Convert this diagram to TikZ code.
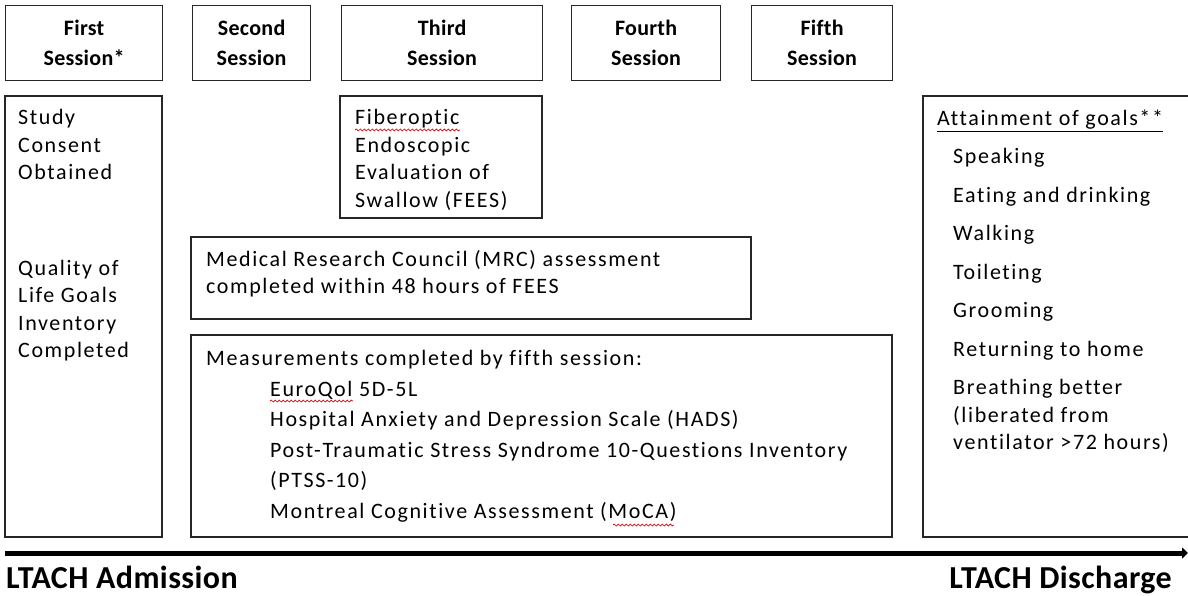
\documentclass[tikz,border=0pt]{standalone}
\usepackage{fontspec}
\setmainfont{Carlito}[Ligatures=NoCommon, LetterSpace=7.3, BoldFeatures={LetterSpace=1.3}]
\usetikzlibrary{arrows.meta,decorations.pathmorphing}
\begin{document}
\begin{tikzpicture}[x=1pt,y=-1pt,
  box/.style={draw=black!85, line width=1.2pt},
  hdr/.style={box, font=\bfseries\fontsize{22}{30}\selectfont, align=center, inner sep=0pt},
  body/.style={anchor=base west, inner sep=0pt, font=\fontsize{22}{27.5}\selectfont},
  meas/.style={anchor=base west, inner sep=0pt, font=\fontsize{22}{30.5}\selectfont},
  endlbl/.style={anchor=base west, inner sep=0pt, font=\bfseries\fontsize{32}{36}\selectfont},
  squig/.style={draw=red!85!black, line width=0.7pt, decorate, decoration={snake, segment length=4pt, amplitude=1pt}},
  timeline/.style={line width=5pt, -{Triangle[length=6pt,width=11pt]}}]
\useasboundingbox (0,0) rectangle (1188,596);

% session headers
\node[hdr, minimum width=157pt, minimum height=75pt, anchor=north west] (s1) at (5,5) {First\\Session*};
\node[hdr, minimum width=118pt, minimum height=75pt, anchor=north west] (s2) at (192,5) {Second\\Session};
\node[hdr, minimum width=201pt, minimum height=75pt, anchor=north west] (s3) at (341,5) {Third\\Session};
\node[hdr, minimum width=149pt, minimum height=75pt, anchor=north west] (s4) at (571,5) {Fourth\\Session};
\node[hdr, minimum width=141pt, minimum height=75pt, anchor=north west] (s5) at (751,5) {Fifth\\Session};

% content boxes
\draw[box] (5,96) rectangle (162,537);
\node[body] (consent) at (18,125) {\begin{tabular}[t]{@{}l@{}}Study\\Consent\\Obtained\end{tabular}};
\node[body] (qol) at (18,275) {\begin{tabular}[t]{@{}l@{}}Quality of\\Life Goals\\Inventory\\Completed\end{tabular}};

\draw[box] (340,96) rectangle (542,218);
\node[body] (fees) at (355,125) {\begin{tabular}[t]{@{}l@{}}Fiberoptic\\Endoscopic\\Evaluation of\\Swallow (FEES)\end{tabular}};

\draw[box] (191,237) rectangle (751,319);
\node[body] (mrc) at (206,266) {\begin{tabular}[t]{@{}l@{}}Medical Research Council (MRC) assessment\\completed within 48 hours of FEES\end{tabular}};

\draw[box] (191,335) rectangle (892,537);
\node[meas] (mhead) at (206,365) {Measurements completed by fifth session:};
\node[meas] (mlist) at (270,396) {\begin{tabular}[t]{@{}l@{}}EuroQol 5D-5L\\Hospital Anxiety and Depression Scale (HADS)\\Post-Traumatic Stress Syndrome 10-Questions Inventory\\(PTSS-10)\\Montreal Cognitive Assessment (MoCA)\end{tabular}};

\draw[box] (1188,96) -- (923,96) -- (923,537) -- (1188,537);
\node[body] (goals) at (937,126) {\underline{Attainment of goals**}};
\node[body] (glist) at (953,164) {\begin{tabular}[t]{@{}l@{}}Speaking\\[11pt]Eating and drinking\\[11pt]Walking\\[11pt]Toileting\\[11pt]Grooming\\[11pt]Returning to home\\[11pt]Breathing better\\(liberated from\\ventilator >72 hours)\end{tabular}};

% spell-check squiggles
\draw[squig] (355,130) -- (460,130);
\draw[squig] (270,401) -- (353,401);
\draw[squig] (613,525) -- (674,525);

% timeline
\coordinate (tl0) at (5,553);
\coordinate (tl1) at (1188,553);
\draw[timeline] (tl0) -- (tl1);
\node[endlbl] (adm) at (6,588) {LTACH Admission};
\node[endlbl, anchor=base east] (dis) at (1172,588) {LTACH Discharge};
\end{tikzpicture}
\end{document}
